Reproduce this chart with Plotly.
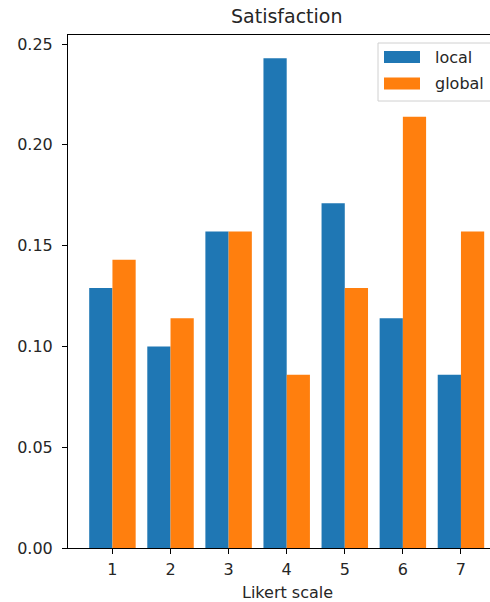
import plotly.graph_objects as go

# Likert-scale response shares
categories = [1, 2, 3, 4, 5, 6, 7]
local_share = [0.129, 0.100, 0.157, 0.243, 0.171, 0.114, 0.086]
global_share = [0.143, 0.114, 0.157, 0.086, 0.129, 0.214, 0.157]
y_ticks = [0.00, 0.05, 0.10, 0.15, 0.20, 0.25]
y_tick_text = ["0.00", "0.05", "0.10", "0.15", "0.20", "0.25"]

BLUE = "#1f77b4"
ORANGE = "#ff7f0e"
FONT = "DejaVu Sans"
TXT = "#262626"
FS = 16

fig = go.Figure()
fig.add_trace(go.Bar(x=categories, y=local_share, name="local",
                     marker=dict(color=BLUE, line=dict(width=0))))
fig.add_trace(go.Bar(x=categories, y=global_share, name="global",
                     marker=dict(color=ORANGE, line=dict(width=0))))

fig.update_layout(
    width=490, height=602,
    margin=dict(l=68, r=0, t=35, b=54),
    barmode="group", bargap=0.2, bargroupgap=0,
    plot_bgcolor="white", paper_bgcolor="white",
    showlegend=False,
    font=dict(family=FONT, size=FS, color=TXT),
    xaxis=dict(
        range=[0.235, 7.5],
        tickvals=categories, ticktext=[str(c) for c in categories],
        ticks="outside", ticklen=5, tickwidth=1, tickcolor="black",
        ticklabelstandoff=2,
        showline=True, linecolor="black", linewidth=1, mirror=True,
        showgrid=False, zeroline=False,
        tickfont=dict(family=FONT, size=FS, color=TXT),
    ),
    yaxis=dict(
        range=[0, 0.2545],
        tickvals=y_ticks, ticktext=y_tick_text,
        ticks="outside", ticklen=5, tickwidth=1, tickcolor="black",
        ticklabelstandoff=6,
        showline=True, linecolor="black", linewidth=1, mirror=False,
        showgrid=False, zeroline=False,
        tickfont=dict(family=FONT, size=FS, color=TXT),
    ),
)

# Title and x-axis label, centred on the full axes box
fig.add_annotation(text="Satisfaction", xref="paper", yref="paper",
                   x=0.519, y=1.0, yshift=19, yanchor="middle", showarrow=False,
                   font=dict(family=FONT, size=19, color=TXT))
fig.add_annotation(text="Likert scale", xref="paper", yref="paper",
                   x=0.519, y=0.0, yshift=-44, yanchor="middle", showarrow=False,
                   font=dict(family=FONT, size=FS, color=TXT))

# Legend box drawn in pixel-like paper coordinates
W, H, L, T = 422.0, 513.0, 68.0, 35.0
def px(xp):
    return (xp - L) / W
def py(yp):
    return 1 - (yp - T) / H

fig.add_shape(type="rect", xref="paper", yref="paper",
              x0=px(378), x1=px(505), y0=py(101), y1=py(43),
              line=dict(color="#d0d0d0", width=1), fillcolor="rgba(255,255,255,0.8)")
legend_items = [("local", BLUE, 51, 63), ("global", ORANGE, 77.5, 89.5)]
for label, color, top, bot in legend_items:
    fig.add_shape(type="rect", xref="paper", yref="paper",
                  x0=px(384), x1=px(420), y0=py(bot), y1=py(top),
                  line=dict(width=0), fillcolor=color)
    fig.add_annotation(text=label, xref="paper", yref="paper",
                       x=px(433), y=py((top + bot) / 2), xanchor="left",
                       yanchor="middle", showarrow=False,
                       font=dict(family=FONT, size=FS, color=TXT))

fig.write_html("out.html")
